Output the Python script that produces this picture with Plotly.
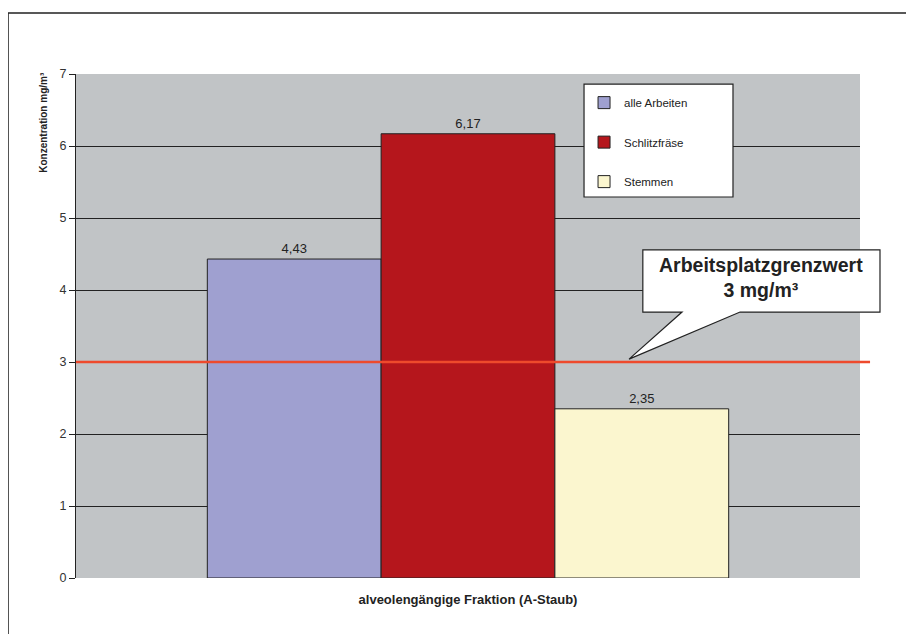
import plotly.graph_objects as go

category = ["alveolengängige Fraktion (A-Staub)"]
series_names = ["alle Arbeiten", "Schlitzfräse", "Stemmen"]
series_values = [4.43, 6.17, 2.35]
series_colors = ["#9fa0d0", "#b5161c", "#fbf6cf"]
limit_value = 3
y_ticks = [0, 1, 2, 3, 4, 5, 6, 7]

FONT = "Arial, Liberation Sans, sans-serif"

fig = go.Figure()
for i, (name, val, col) in enumerate(zip(series_names, series_values, series_colors)):
    fig.add_trace(go.Bar(
        x=category, y=[val], name=name,
        marker=dict(color=col, line=dict(color="#222222", width=1)),
        texttemplate="%{y:.2f}", textposition="outside",
        textfont=dict(size=13, color="#222222", family=FONT),
        cliponaxis=False, legendgroup=f"g{i}",
    ))

# limit line
fig.add_shape(type="line", xref="paper", yref="y", x0=0, x1=1.0128,
              y0=limit_value, y1=limit_value,
              line=dict(color="#ee4a2c", width=2.5), layer="above")

# callout bubble
bx0, bx1, by0, by1 = 0.723, 1.0255, 3.694, 4.556
path = (f"M {bx0},{by1} L {bx1},{by1} L {bx1},{by0} L 0.847,{by0} "
        f"L 0.7054,{limit_value + 0.04} L 0.773,{by0} L {bx0},{by0} Z")
fig.add_shape(type="path", xref="paper", yref="y", path=path,
              fillcolor="white", line=dict(color="#222222", width=1.2), layer="above")
fig.add_annotation(xref="paper", yref="y", x=(bx0 + bx1) / 2, y=(by0 + by1) / 2 + 0.05,
                   xanchor="center", yanchor="middle",
                   text="<b>Arbeitsplatzgrenzwert<br>3 mg/m³</b>", showarrow=False,
                   font=dict(size=19.5, color="#222222", family=FONT), align="center")

# legend frame
fig.add_shape(type="rect", xref="paper", yref="paper", x0=0.648, x1=0.838,
              y0=0.756, y1=0.980, fillcolor="white",
              line=dict(color="#222222", width=1.2), layer="above")

# outer frame
fig.add_shape(type="rect", xref="paper", yref="paper", x0=-0.0867, x1=1.3,
              y0=-0.3, y1=1.121, line=dict(color="#222222", width=1.5),
              fillcolor="rgba(0,0,0,0)", layer="below")

# y axis title
fig.add_annotation(xref="paper", yref="paper", x=-0.041, y=0.905,
                   xanchor="center", yanchor="middle",
                   text="<b>Konzentration mg/m³</b>", textangle=-90, showarrow=False,
                   font=dict(size=10, color="#222222", family=FONT))

fig.update_layout(
    width=906, height=626,
    margin=dict(l=68, r=54, t=66, b=56),
    paper_bgcolor="white", plot_bgcolor="#c1c4c6",
    barmode="group", bargap=0.335, bargroupgap=0,
    separators=",.",
    font=dict(family=FONT, color="#222222"),
    showlegend=True,
    legend=dict(x=0.648, y=0.972, xanchor="left", yanchor="top",
                bgcolor="rgba(0,0,0,0)", borderwidth=0,
                font=dict(size=11.5, color="#222222", family=FONT),
                traceorder="grouped", tracegroupgap=20.5),
    xaxis=dict(showticklabels=False, ticks="", showline=False, showgrid=False,
               title=dict(text="<b>alveolengängige Fraktion (A-Staub)</b>",
                          font=dict(size=13, color="#222222", family=FONT),
                          standoff=16)),
    yaxis=dict(range=[0, 7], tickvals=y_ticks, showgrid=True, gridcolor="#222222",
               gridwidth=1, zeroline=False, showline=True, linecolor="#222222",
               linewidth=1, ticks="outside", ticklen=6, tickcolor="#222222",
               tickfont=dict(size=12.5, color="#333333", family=FONT)),
)

fig.write_html("out.html")
